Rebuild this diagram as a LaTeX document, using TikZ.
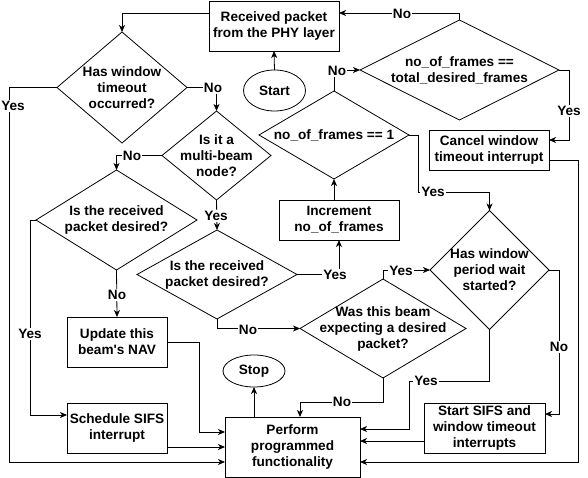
\documentclass[tikz,border=0pt]{standalone}
\usepackage{fontspec}
\setmainfont{Liberation Sans}[Ligatures=TeXOff]
\usetikzlibrary{shapes.geometric,arrows.meta}
\begin{document}
\begin{tikzpicture}[x=1pt,y=-1pt,line width=0.8pt,
  every node/.style={font=\fontsize{13.6}{16}\selectfont\bfseries, inner sep=0pt, outer sep=0pt},
  box/.style={draw, rectangle, align=center},
  dia/.style={draw, diamond},
  oval/.style={draw, ellipse},
  txt/.style={align=center},
  lbl/.style={fill=white, inner sep=1pt},
  arr/.style={draw, -{Stealth[length=7pt,width=6pt,inset=2pt]}},
]
\useasboundingbox (0,0) rectangle (588,478);

% nodes
\node[box, minimum width=130, minimum height=50] (rcv) at (274,26) {Received packet\\from the PHY layer};
\node[oval, minimum width=62, minimum height=41] (start) at (274.5,90.5) {Start};
\node[dia, minimum width=130, minimum height=111] (d0) at (122,87.5) {};
\node[txt] (d0t) at (d0) {Has window\\timeout\\occurred?};
\node[dia, minimum width=109, minimum height=89] (mb) at (216.5,155.5) {};
\node[txt] (mbt) at (mb) {Is it a\\multi-beam\\node?};
\node[dia, minimum width=161, minimum height=100] (dr1) at (116.5,220) {};
\node[txt] (dr1t) at (dr1) {Is the received\\packet desired?};
\node[box, minimum width=100, minimum height=50] (nav) at (117,342) {Update this\\beam's NAV};
\node[box, minimum width=100, minimum height=50] (sch) at (117,428) {Schedule SIFS\\interrupt};
\node[box, minimum width=135, minimum height=60] (perf) at (292.5,447) {Perform\\programmed\\functionality};
\node[oval, minimum width=62, minimum height=32] (stop) at (254,371) {Stop};
\node[dia, minimum width=160, minimum height=89] (dr2) at (217,274.5) {};
\node[txt] (dr2t) at (dr2) {Is the received\\packet desired?};
\node[box, minimum width=120, minimum height=40] (inc) at (339,220) {Increment\\no\_of\_frames};
\node[dia, minimum width=150, minimum height=88] (d1) at (334,135) {};
\node[txt] (d1t) at (d1) {no\_of\_frames == 1};
\node[dia, minimum width=199, minimum height=100] (tot) at (459.5,70) {};
\node[txt] (tott) at (tot) {no\_of\_frames ==\\total\_desired\_frames};
\node[box, minimum width=120, minimum height=40] (can) at (489,150) {Cancel window\\timeout interrupt};
\node[dia, minimum width=119, minimum height=119] (wp) at (489.5,270) {};
\node[txt] (wpt) at (wp) {Has window\\period wait\\started?};
\node[box, minimum width=121, minimum height=50] (ss) at (484.5,428) {Start SIFS and\\window timeout\\interrupts};
\node[dia, minimum width=166, minimum height=99] (wb) at (383,328.5) {};
\node[txt] (wbt) at (wb) {Was this beam\\expecting a desired\\packet?};

% connectors
\draw[arr] (rcv.west |- 0,13) -| (d0.north);
\draw[arr] (start.north) -- (rcv.south);
\draw[arr] (d0.west) -| (9,462) -- (perf.west |- 0,462);
\draw[arr] (d0.east) -| (mb.north);
\draw[arr] (mb.west) -| (dr1.north);
\draw[arr] (dr1.west) -- (30,220) |- (sch.west |- 0,415);
\draw[arr] (dr1.south) -- (nav.north);
\draw[arr] (nav.east) -| (199,432) -- (perf.west |- 0,432);
\draw[arr] (sch.east |- 0,447) -- (perf.west |- 0,447);
\draw[arr] (perf.north -| stop) -- (stop.south);
\draw[arr] (mb.south) -- (dr2.north);
\draw[arr] (dr2.east) -| (inc.south);
\draw[arr] (inc.north -| d1.south) -- (d1.south);
\draw[arr] (d1.north) |- (tot.west);
\draw[arr] (tot.north) -- (tot.north |- 0,13) -- (rcv.east |- 0,13);
\draw[arr] (tot.east) -- (569,70) |- (can.east |- 0,140);
\draw[arr] (can.east |- 0,160) -- (578,160) |- (perf.east |- 0,462);
\draw[arr] (d1.east) -- (418,135) -- (418,192) -| (wp.north);
\draw[arr] (wp.east) -- (559,270) |- (ss.east |- 0,414);
\draw[arr] (ss.west |- 0,441) -- (perf.east |- 0,441);
\draw[arr] (wp.south) |- (409,381) |- (perf.east |- 0,429);
\draw[arr] (dr2.south) |- (wb.west);
\draw[arr] (wb.north) |- (wp.west);
\draw[arr] (wb.south) -- (wb.south |- 0,402) -| (perf.north -| 300,0);

% labels
\node[lbl] (l1) at (13,106) {Yes};
\node[lbl] (l2) at (213,88) {No};
\node[lbl] (l3) at (132,156) {No};
\node[lbl] (l4) at (30,334) {Yes};
\node[lbl] (l5) at (117,295) {No};
\node[lbl] (l6) at (216,216) {Yes};
\node[lbl] (l7) at (335,275) {Yes};
\node[lbl] (l8) at (337,71) {No};
\node[lbl] (l9) at (402,14) {No};
\node[lbl] (l10) at (569,111) {Yes};
\node[lbl] (l11) at (433,192) {Yes};
\node[lbl] (l12) at (559,347) {No};
\node[lbl] (l13) at (426,381) {Yes};
\node[lbl] (l14) at (248,330) {No};
\node[lbl] (l15) at (401,271) {Yes};
\node[lbl] (l16) at (342,402) {No};
\end{tikzpicture}
\end{document}
